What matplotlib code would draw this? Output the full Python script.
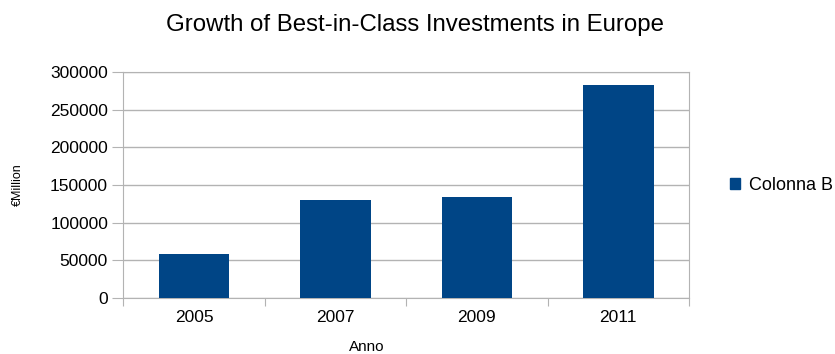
import matplotlib.pyplot as plt
from matplotlib.patches import Patch

plt.rcParams['font.family'] = ['Liberation Sans', 'DejaVu Sans']

anni = ['2005', '2007', '2009', '2011']
colonna_b = [58000, 130000, 134000, 283000]
y_ticks = [0, 50000, 100000, 150000, 200000, 250000, 300000]

bar_color = '#004586'
grid_color = '#b3b3b3'

W, H = 835, 354
fig = plt.figure(figsize=(W / 100, H / 100), dpi=100)
ax = fig.add_axes([123.3 / W, (H - 297.7) / H, 565.7 / W, 225.4 / H])

x = list(range(len(anni)))
ax.bar(x, colonna_b, width=0.5, color=bar_color, zorder=3)

ax.set_xlim(-0.5, len(anni) - 0.5)
ax.set_ylim(0, 300000)
ax.set_yticks(y_ticks)
ax.set_yticklabels([str(v) for v in y_ticks], fontsize=12.5)

# category labels centred, tick marks on the boundaries
ax.set_xticks([i - 0.5 for i in range(len(anni) + 1)])
ax.set_xticklabels([])
ax.set_xticks(x, minor=True)
ax.set_xticklabels(anni, minor=True, fontsize=12.5)
ax.tick_params(axis='x', which='minor', length=0, pad=9)
ax.tick_params(axis='x', which='major', length=6, color=grid_color, direction='out')
ax.tick_params(axis='y', length=8, color=grid_color, direction='out', pad=3)

ax.grid(axis='y', color=grid_color, linewidth=1, zorder=0)
for s in ax.spines.values():
    s.set_color(grid_color)

fig.text(18 / W, 1 - 185 / H, '€Million', fontsize=9, rotation=90,
         ha='center', va='center')
fig.text(367 / W, 1 - 347 / H, 'Anno', fontsize=11, ha='center', va='center')

fig.text(415 / W, 1 - 31.5 / H, 'Growth of Best-in-Class Investments in Europe',
         fontsize=17.3, ha='center', va='baseline')

fig.legend(handles=[Patch(color=bar_color, label='Colonna B')],
           loc='center left', bbox_to_anchor=(730 / W, 1 - 185 / H), frameon=False,
           fontsize=13, handlelength=0.55, handleheight=0.55, handletextpad=0.5,
           borderpad=0, borderaxespad=0)

fig.savefig('out.png', dpi=100)
